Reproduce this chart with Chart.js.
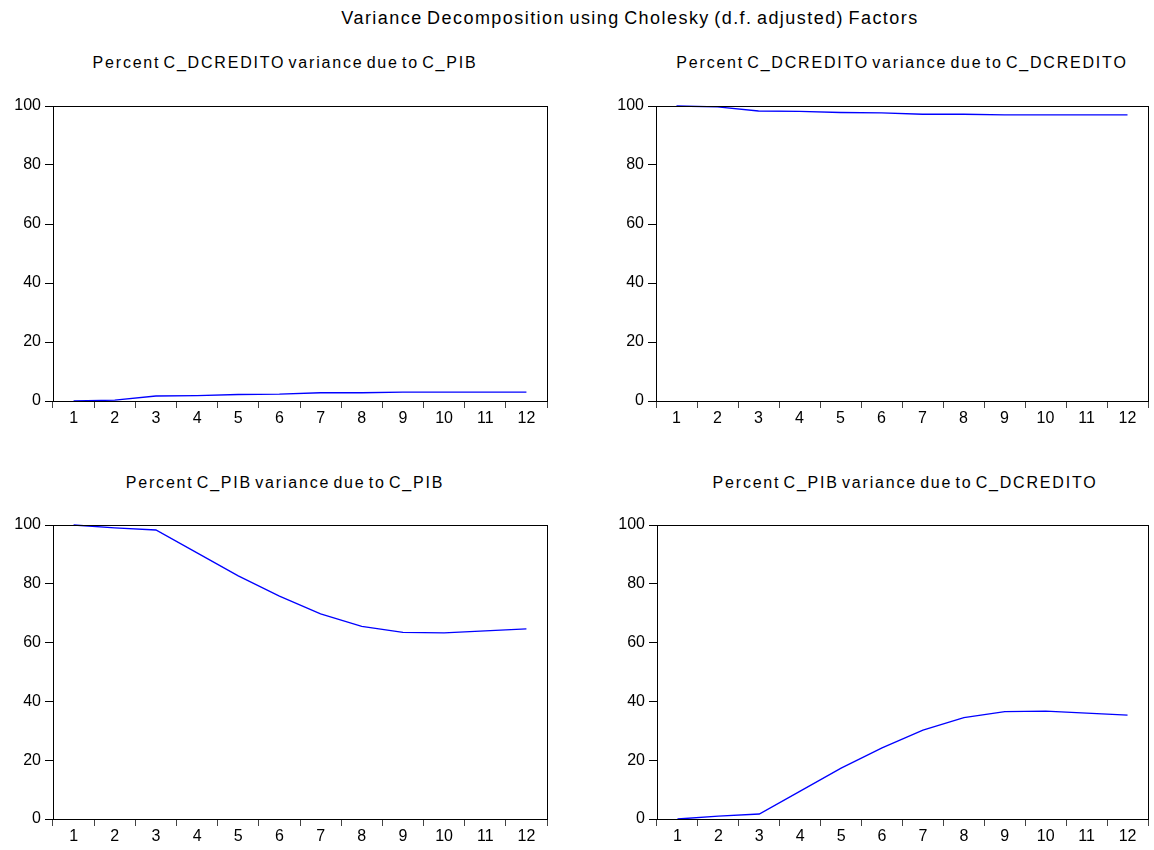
<!DOCTYPE html>
<html>
<head>
<meta charset="utf-8">
<script src="https://cdn.jsdelivr.net/npm/chart.js@4"></script>
<style>
  body { margin: 0; background: #fff; font-family: "Liberation Sans", Arial, sans-serif; }
  #wrap { position: relative; width: 1154px; height: 850px; overflow: hidden; }
  .title { position: absolute; text-align: center; color: #000; white-space: nowrap; }
  canvas { position: absolute; }
</style>
</head>
<body>
<div id="wrap">
  <div class="title" style="left:230px; width:800px; top:8px; font-size:18px; letter-spacing:1.45px; word-spacing:-2px;">Variance Decomposition using Cholesky (d.f. adjusted) Factors</div>
</div>
<script>
// periodos (horizonte)
var periods = ['1', '2', '3', '4', '5', '6', '7', '8', '9', '10', '11', '12']
var yTicks = [0, 20, 40, 60, 80, 100]

// valores
var credDueToPib  = [0, 0.3, 1.7, 1.8, 2.2, 2.3, 2.8, 2.8, 3.0, 3.0, 3.0, 3.0]
var credDueToCred = [100, 99.7, 98.3, 98.2, 97.8, 97.7, 97.2, 97.2, 97.0, 97.0, 97.0, 97.0]
var pibDueToPib   = [100, 99.0, 98.3, 90.5, 82.7, 75.8, 69.8, 65.5, 63.5, 63.3, 64.0, 64.7]
var pibDueToCred  = [0, 1.0, 1.7, 9.5, 17.3, 24.2, 30.2, 34.5, 36.5, 36.7, 36.0, 35.3]

var panelTitles = [
  'Percent C_DCREDITO variance due to C_PIB',
  'Percent C_DCREDITO variance due to C_DCREDITO',
  'Percent C_PIB variance due to C_PIB',
  'Percent C_PIB variance due to C_DCREDITO'
]

// posicion del area de dibujo de cada panel (titleX = centro del subtitulo)
var panels = [
  { data: credDueToPib,  left: 53,  top: 106, w: 494, h: 295, titleY: 54,  titleX: 285 },
  { data: credDueToCred, left: 656, top: 106, w: 492, h: 295, titleY: 54,  titleX: 902 },
  { data: pibDueToPib,   left: 53,  top: 525, w: 494, h: 294, titleY: 474, titleX: 285 },
  { data: pibDueToCred,  left: 657, top: 525, w: 491, h: 294, titleY: 474, titleX: 905 }
]

var yAxisW = 53
var xAxisH = 30
var padTop = 14
var padRight = 4

// caja alrededor del area de dibujo
var boxPlugin = {
  id: 'box',
  afterDraw(chart) {
    var a = chart.chartArea
    var ctx = chart.ctx
    ctx.save()
    ctx.strokeStyle = '#000'
    ctx.lineWidth = 1
    ctx.strokeRect(Math.round(a.left) + 0.5, Math.round(a.top) + 0.5, Math.round(a.right - a.left), Math.round(a.bottom - a.top))
    ctx.restore()
  }
}

var wrap = document.getElementById('wrap')

panels.map((p, i) => {
  var t = document.createElement('div')
  t.className = 'title'
  t.style.left = (p.titleX - 300) + 'px'
  t.style.width = '600px'
  t.style.top = p.titleY + 'px'
  t.style.fontSize = '16px'
  t.style.letterSpacing = '1.8px'
  t.style.wordSpacing = '-3px'
  t.textContent = panelTitles[i]
  wrap.appendChild(t)

  var c = document.createElement('canvas')
  var cw = yAxisW + p.w + padRight
  var ch = padTop + p.h + xAxisH
  c.width = cw
  c.height = ch
  c.style.width = cw + 'px'
  c.style.height = ch + 'px'
  c.style.left = (p.left - yAxisW) + 'px'
  c.style.top = (p.top - padTop) + 'px'
  wrap.appendChild(c)

  new Chart(c, {
    type: 'line',
    data: {
      labels: periods,
      datasets: [{
        data: p.data,
        borderColor: '#0000ff',
        borderWidth: 1.3,
        pointRadius: 0,
        tension: 0,
        fill: false,
        clip: false
      }]
    },
    options: {
      responsive: false,
      animation: false,
      layout: { padding: { top: padTop, right: padRight, left: 0, bottom: 0 } },
      plugins: { legend: { display: false }, tooltip: { enabled: false } },
      scales: {
        x: {
          offset: true,
          grid: { offset: true, drawOnChartArea: false, drawTicks: true, tickLength: 7, color: '#444' },
          border: { color: '#000' },
          ticks: { color: '#000', font: { family: 'Liberation Sans', size: 16 }, padding: 1, maxRotation: 0, autoSkip: false },
          afterFit(s) { s.height = xAxisH }
        },
        y: {
          min: 0,
          max: 100,
          afterBuildTicks(s) { s.ticks = yTicks.map(v => ({ value: v })) },
          grid: { drawOnChartArea: false, drawTicks: true, tickLength: 8, color: '#000' },
          border: { color: '#000' },
          ticks: { color: '#000', font: { family: 'Liberation Sans', size: 16 }, padding: 4 },
          afterFit(s) { s.width = yAxisW }
        }
      }
    },
    plugins: [boxPlugin]
  })
})
</script>
</body>
</html>
